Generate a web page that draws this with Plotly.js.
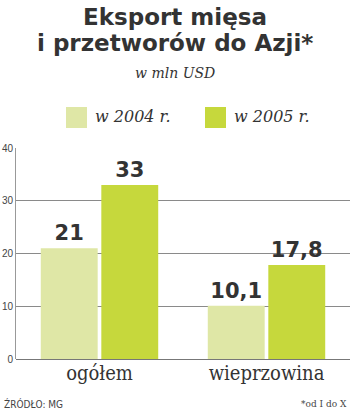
<!DOCTYPE html>
<html><head><meta charset="utf-8">
<script src="https://cdn.plot.ly/plotly-3.0.1.min.js"></script>
<style>html,body{margin:0;padding:0;background:#fff;}#chart{width:350px;height:413px;}</style>
</head><body><div id="chart"></div>
<script>
const categories = ["ogółem", "wieprzowina"];
const seriesNames = ["w 2004 r.", "w 2005 r."];
const values2004 = [21, 10.1];
const values2005 = [33, 17.8];
const labels2004 = ["21", "10,1"];
const labels2005 = ["33", "17,8"];
const colors = ["#dfe7a6", "#c6d83c"];
const yTicks = [0, 10, 20, 30, 40];

const valueFont = {family: "'DejaVu Sans', sans-serif", size: 21, color: "#333", weight: "bold"};
const traces = [
  {type: "bar", name: seriesNames[0], x: categories, y: values2004, text: labels2004,
   textposition: "outside", textfont: valueFont, cliponaxis: false,
   marker: {color: colors[0]}, hoverinfo: "none"},
  {type: "bar", name: seriesNames[1], x: categories, y: values2005, text: labels2005,
   textposition: "outside", textfont: valueFont, cliponaxis: false,
   marker: {color: colors[1]}, hoverinfo: "none"}
];

const titleFont = {family: "'DejaVu Sans', sans-serif", size: 23, color: "#333", weight: "bold"};
const legendX = [66, 205];
const shapes = [];
const annotations = [
  {text: "<b>Eksport mięsa</b>", xref: "paper", yref: "paper",
   x: 0.5, xshift: -8, y: 1, yshift: 131, yanchor: "middle", showarrow: false, font: titleFont},
  {text: "<b>i przetworów do Azji*</b>", xref: "paper", yref: "paper",
   x: 0.5, xshift: -8, y: 1, yshift: 105, yanchor: "middle", showarrow: false, font: titleFont},
  {text: "<i>w mln USD</i>", xref: "paper", yref: "paper", x: 0.5, xshift: -8, y: 1, yshift: 75,
   yanchor: "middle", showarrow: false, font: {family: "'DejaVu Serif', serif", size: 14, color: "#333"}},
  {text: "ŹRÓDŁO: MG", xref: "paper", yref: "paper", x: 0, xshift: -14, y: 0, yshift: -53,
   xanchor: "left", showarrow: false, font: {family: "'DejaVu Sans Condensed', sans-serif", size: 10, color: "#444"}},
  {text: "*od I do X", xref: "paper", yref: "paper", x: 1, xshift: -1, y: 0, yshift: -52,
   xanchor: "right", showarrow: false, font: {family: "'DejaVu Serif Condensed', serif", size: 10, color: "#444"}}
];
seriesNames.forEach((n, i) => {
  const x0 = (legendX[i] - 16) / 334;
  shapes.push({type: "rect", xref: "paper", yref: "paper", x0: x0, x1: x0 + 21 / 334,
    y0: 1 + 20 / 211, y1: 1 + 41 / 211, fillcolor: colors[i], line: {width: 0}});
  annotations.push({text: "<i>" + n + "</i>", xref: "paper", yref: "paper",
    x: (legendX[i] + 27 - 16) / 334, y: 1 + 31 / 211, xanchor: "left", yanchor: "middle",
    showarrow: false, font: {family: "'DejaVu Serif', serif", size: 16, color: "#333"}});
});

const layout = {
  width: 350, height: 413,
  margin: {l: 16, r: 0, t: 148, b: 54},
  paper_bgcolor: "#fff", plot_bgcolor: "#fff",
  showlegend: false,
  barmode: "group", bargap: 0.275, bargroupgap: 0.06,
  xaxis: {type: "category", range: [-0.5, 1.5], showline: false, showgrid: false, ticks: "",
    tickfont: {family: "'DejaVu Serif Condensed', serif", size: 20, color: "#333"}, fixedrange: true},
  yaxis: {range: [0, 40], tickvals: yTicks, showgrid: true, gridcolor: "#8a8a8a", gridwidth: 1,
    zeroline: true, zerolinecolor: "#777", zerolinewidth: 1,
    showline: true, linecolor: "#999", linewidth: 1, ticks: "", ticklabelstandoff: 0,
    tickfont: {family: "'Liberation Sans', sans-serif", size: 10, color: "#444"}, fixedrange: true},
  shapes: shapes, annotations: annotations
};
Plotly.newPlot("chart", traces, layout, {displayModeBar: false, staticPlot: true});
</script></body></html>
